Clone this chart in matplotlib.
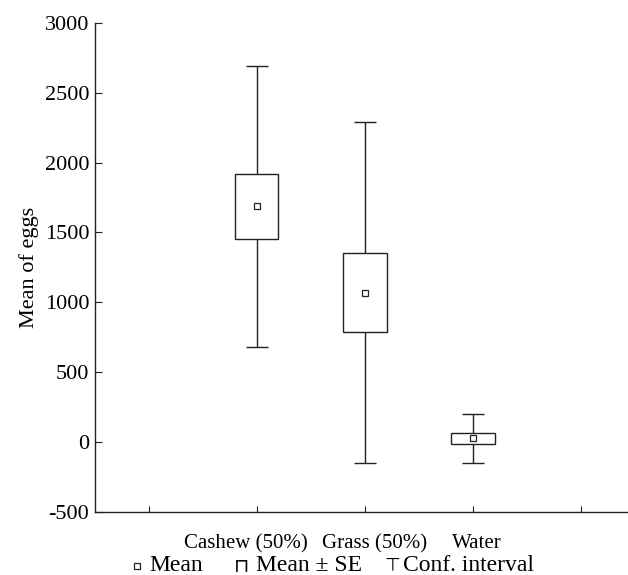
import matplotlib.pyplot as plt
import matplotlib.transforms as mtrans
from matplotlib.lines import Line2D

groups = ["Cashew (50%)", "Grass (50%)", "Water"]
means = [1688, 1070, 28]
se_low = [1455, 785, -12]
se_high = [1920, 1355, 68]
ci_low = [680, -148, -148]
ci_high = [2692, 2290, 204]
yticks = [-500, 0, 500, 1000, 1500, 2000, 2500, 3000]

plt.rcParams["font.family"] = ["Liberation Serif", "DejaVu Sans"]
ink = "#222222"

fig = plt.figure(figsize=(6.28, 5.75), dpi=100)
ax = fig.add_axes([0.151, 0.1096, 0.849, 0.8507])

pos = [1, 2, 3]
lo = [m - l for m, l in zip(means, ci_low)]
hi = [h - m for m, h in zip(means, ci_high)]
ax.errorbar(pos, means, yerr=[lo, hi], fmt="none", ecolor=ink,
            elinewidth=1.0, capsize=8, capthick=1.0, zorder=1)
ax.bar(pos, [h - l for h, l in zip(se_high, se_low)], bottom=se_low,
       width=0.4, color="white", edgecolor=ink, linewidth=1.0, zorder=2)
ax.plot(pos, means, ls="none", marker="s", ms=4, mfc="white",
        mec=ink, mew=0.9, zorder=3)

ax.set_xlim(-0.5, 4.435)
ax.set_ylim(-500, 3000)
ax.set_xticks([0, 1, 2, 3, 4])
ax.set_xticklabels([""] + groups + [""], fontsize=15)
ax.set_yticks(yticks)
ax.set_yticklabels([str(v) for v in yticks], fontsize=16)
ax.tick_params(axis="x", direction="in", length=4, pad=16, colors=ink)
ax.tick_params(axis="y", direction="in", length=5, pad=4, colors=ink)
for t in ax.get_xticklabels() + ax.get_yticklabels():
    t.set_color("black")

# the category labels sit a little off their ticks in the original
shifts = [0, -11, 10, 4, 0]
for t, dx in zip(ax.get_xticklabels(), shifts):
    off = mtrans.ScaledTranslation(dx / 100, 0, fig.dpi_scale_trans)
    t.set_transform(t.get_transform() + off)

ax.set_ylabel("Mean of eggs", fontsize=16, labelpad=4)
for s in ["top", "right"]:
    ax.spines[s].set_visible(False)
for s in ["left", "bottom"]:
    ax.spines[s].set_color(ink)
    ax.spines[s].set_linewidth(1.0)

# legend drawn under the axis
ly = 0.016
fig.add_artist(Line2D([0.2177], [ly], transform=fig.transFigure, ls="none",
                      marker="s", ms=4, mfc="white", mec=ink, mew=0.9))
fig.text(0.238, ly, "Mean", fontsize=17, va="center")
fig.text(0.372, ly, "\u2293", fontsize=14, va="center", family="DejaVu Sans")
fig.text(0.408, ly, "Mean \u00b1 SE", fontsize=17, va="center")
fig.text(0.612, ly, "\u22a4", fontsize=13, va="center", family="DejaVu Sans")
fig.text(0.641, ly, "Conf. interval", fontsize=17, va="center")

fig.savefig("out.png", dpi=100)
